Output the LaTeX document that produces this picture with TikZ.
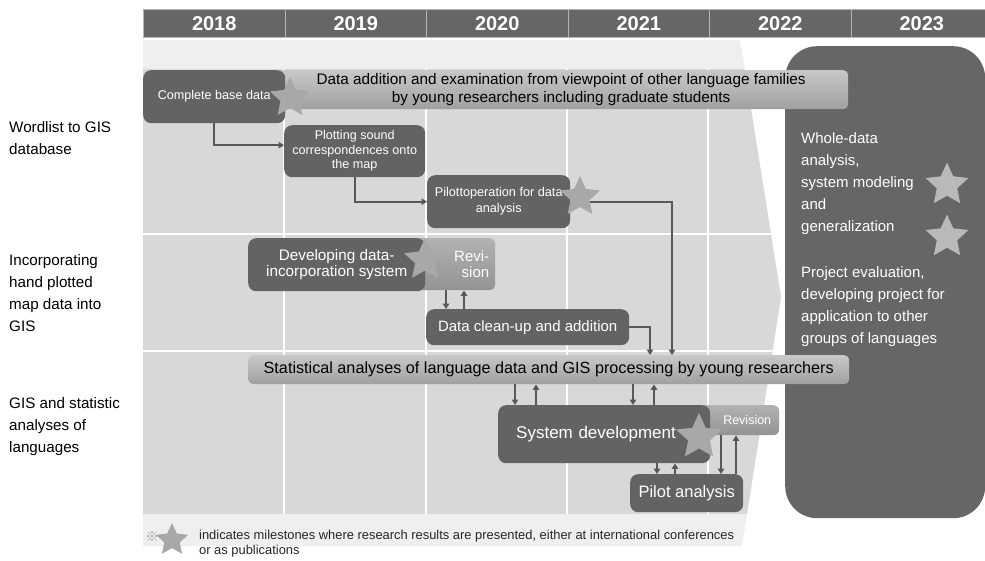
\documentclass[tikz,border=0pt]{standalone}
\usepackage{fontspec}
\setmainfont{Liberation Sans}
\newfontfamily\refmark{Noto Sans CJK JP}
\usetikzlibrary{shapes.geometric,arrows.meta}

\definecolor{hdrgray}{HTML}{666666}
\definecolor{boxgray}{HTML}{636363}
\definecolor{rowgray}{HTML}{D8D8D8}
\definecolor{chevgray}{HTML}{EFEFEF}
\definecolor{bartop}{HTML}{C8C8C8}
\definecolor{barbot}{HTML}{A0A0A0}
\definecolor{revtop}{HTML}{B2B2B2}
\definecolor{revbot}{HTML}{939393}
\definecolor{stargray}{HTML}{A8A8A8}
\definecolor{panelstar}{HTML}{B9B9B9}
\definecolor{arrgray}{HTML}{585858}
\definecolor{sepgray}{HTML}{B4B4B4}
\definecolor{markgray}{HTML}{9A9A9A}
\newcommand{\setfs}[2]{\fontsize{#1}{#2}\selectfont}

\begin{document}
\begin{tikzpicture}[x=1pt, y=-1pt,
  yearcell/.style={fill=hdrgray, draw=sepgray, line width=1pt, text=white, font=\setfs{20}{20}\bfseries,
    minimum width=141.5pt, minimum height=28pt, inner sep=0pt, anchor=north west},
  dkbox/.style={fill=boxgray, rounded corners=8pt, text=white, align=center, inner sep=2pt, anchor=north west},
  lightbar/.style={top color=bartop, bottom color=barbot, rounded corners=5pt, align=center, inner sep=2pt, anchor=north west},
  revbox/.style={top color=revtop, bottom color=revbot, rounded corners=6pt, text=white, align=right, anchor=north west},
  mstar/.style={star, star points=5, star point ratio=2.1, fill=stargray, inner sep=0pt},
  arr/.style={draw=arrgray, line width=1.7pt, -{Triangle[length=5.5pt,width=6.5pt]}},
  rowlab/.style={align=left, anchor=north west, inner sep=0pt, font=\setfs{15.2}{22}},
  paneltxt/.style={align=left, anchor=north west, inner sep=0pt, text=white, font=\setfs{15}{22}}]

\useasboundingbox (0,0) rectangle (985,560);
\fill[white] (0,0) rectangle (985,560);

% big arrow behind the yearly rows
\fill[chevgray] (143,40) -- (740,40) -- (781,297) -- (742,546) -- (143,546) -- cycle;
\begin{scope}
\clip (143,40) -- (740,40) -- (781,297) -- (742,546) -- (143,546) -- cycle;
\fill[rowgray] (143,69) rectangle (800,514);
\foreach \gx in {284,426,567,708}
  \draw[white, line width=2pt] (\gx,69) -- (\gx,514);
\foreach \gy in {234,351}
  \draw[white, line width=2pt] (143,\gy) -- (800,\gy);
\end{scope}

\foreach \yr [count=\i] in {2018,2019,2020,2021,2022,2023}
  \node[yearcell] (y\yr) at ({143+(\i-1)*141.5},9) {\yr};

\node[rowlab] (lab1) at (9,121) {Wordlist to GIS\\database};
\node[rowlab] (lab2) at (9,254) {Incorporating\\hand plotted\\map data into\\GIS};
\node[rowlab] (lab3) at (9,397) {GIS and statistic\\analyses of\\languages};

% last year
\node[fill=hdrgray, rounded corners=32pt, minimum width=200pt, minimum height=472pt, inner sep=0pt, anchor=north west] (whole) at (785,46) {};
\node[paneltxt] (wtxt) at (801,132) {Whole-data\\analysis,\\system modeling\\and\\generalization};
\node[paneltxt] (ptxt) at (801,266) {Project evaluation,\\developing project for\\application to other\\groups of languages};

\node[lightbar, minimum width=574pt, minimum height=39pt, font=\setfs{15.3}{18}] (addbar) at (274,70)
  {Data addition and examination from viewpoint of other language families\\by young researchers including graduate students};
\node[dkbox, minimum width=142pt, minimum height=53pt, font=\setfs{12.6}{15}] (base) at (143,70) {Complete base data};
\node[dkbox, minimum width=141pt, minimum height=52pt, font=\setfs{12.6}{14.5}] (plot) at (284,125) {Plotting sound\\correspondences onto\\the map};
\node[dkbox, minimum width=143pt, minimum height=53pt, font=\setfs{12.7}{16}] (pilot) at (427,175) {Pilottoperation for data\\analysis};

\node[revbox, text width=78pt, inner xsep=6pt, minimum height=52pt, font=\setfs{15}{15.5}] (rev1) at (405,238) {Revi-\\sion};
\node[dkbox, minimum width=177pt, minimum height=53pt, font=\setfs{15.3}{15.5}] (dev) at (248,238) {Developing data-\\incorporation system};
\node[dkbox, minimum width=203pt, minimum height=36pt, font=\setfs{15}{15}] (clean) at (426,309) {Data clean-up and addition};

\node[lightbar, minimum width=601pt, minimum height=29pt, font=\setfs{16.2}{16.2}] (stat) at (248,355)
  {Statistical analyses of language data and GIS processing by young researchers};
\node[revbox, text width=73pt, inner xsep=8pt, minimum height=30pt, font=\setfs{12.5}{12.5}] (rev3) at (690,405) {Revision};
\node[dkbox, text width=176pt, inner xsep=18pt, align=left, minimum height=58pt, font=\setfs{17}{17}] (sysdev) at (498,405) {System development};
\node[dkbox, minimum width=113pt, minimum height=38pt, font=\setfs{16.5}{16.5}] (pilotA) at (630,474) {Pilot analysis};

\draw[arr] (base.south) |- ([yshift=6pt]plot.west);
\draw[arr] (plot.south) |- (pilot.west);
\draw[arr] (pilot.east) -| (stat.north -| 672,0);
\draw[arr] (clean.east) -| (stat.north -| 650,0);
\draw[arr] (rev1.south -| 446,0) -- (clean.north -| 446,0);
\draw[arr] (clean.north -| 464,0) -- (rev1.south -| 464,0);
\draw[arr] (stat.south -| 515,0) -- (sysdev.north -| 515,0);
\draw[arr] (sysdev.north -| 536,0) -- (stat.south -| 536,0);
\draw[arr] (stat.south -| 633,0) -- (sysdev.north -| 633,0);
\draw[arr] (sysdev.north -| 654,0) -- (stat.south -| 654,0);
\draw[arr] (sysdev.south -| 657,0) -- (pilotA.north -| 657,0);
\draw[arr] (pilotA.north -| 675,0) -- (sysdev.south -| 675,0);
\draw[arr] (rev3.south -| 721,0) -- (pilotA.north -| 721,0);
\draw[arr] (pilotA.north -| 736,0) -- (rev3.south -| 736,0);

% milestones
\node[mstar, minimum size=42pt] (st1) at (290,98) {};
\node[mstar, minimum size=42pt] (st2) at (580,197) {};
\node[mstar, minimum size=44pt] (st3) at (425,260) {};
\node[mstar, minimum size=48pt] (st4) at (699,437) {};
\node[mstar, minimum size=45pt, fill=panelstar] (st5) at (947,185) {};
\node[mstar, minimum size=45pt, fill=panelstar] (st6) at (947,237) {};

\node[text=markgray, font=\refmark\setfs{13}{13}, inner sep=0pt] (note) at (152,537) {※};
\node[mstar, minimum size=34pt] (st7) at (172,540) {};
\node[align=left, anchor=north west, inner sep=0pt, text=black!85, font=\setfs{12.9}{15}] (legend) at (199,530)
  {indicates milestones where research results are presented, either at international conferences\\or as publications};
\end{tikzpicture}
\end{document}
